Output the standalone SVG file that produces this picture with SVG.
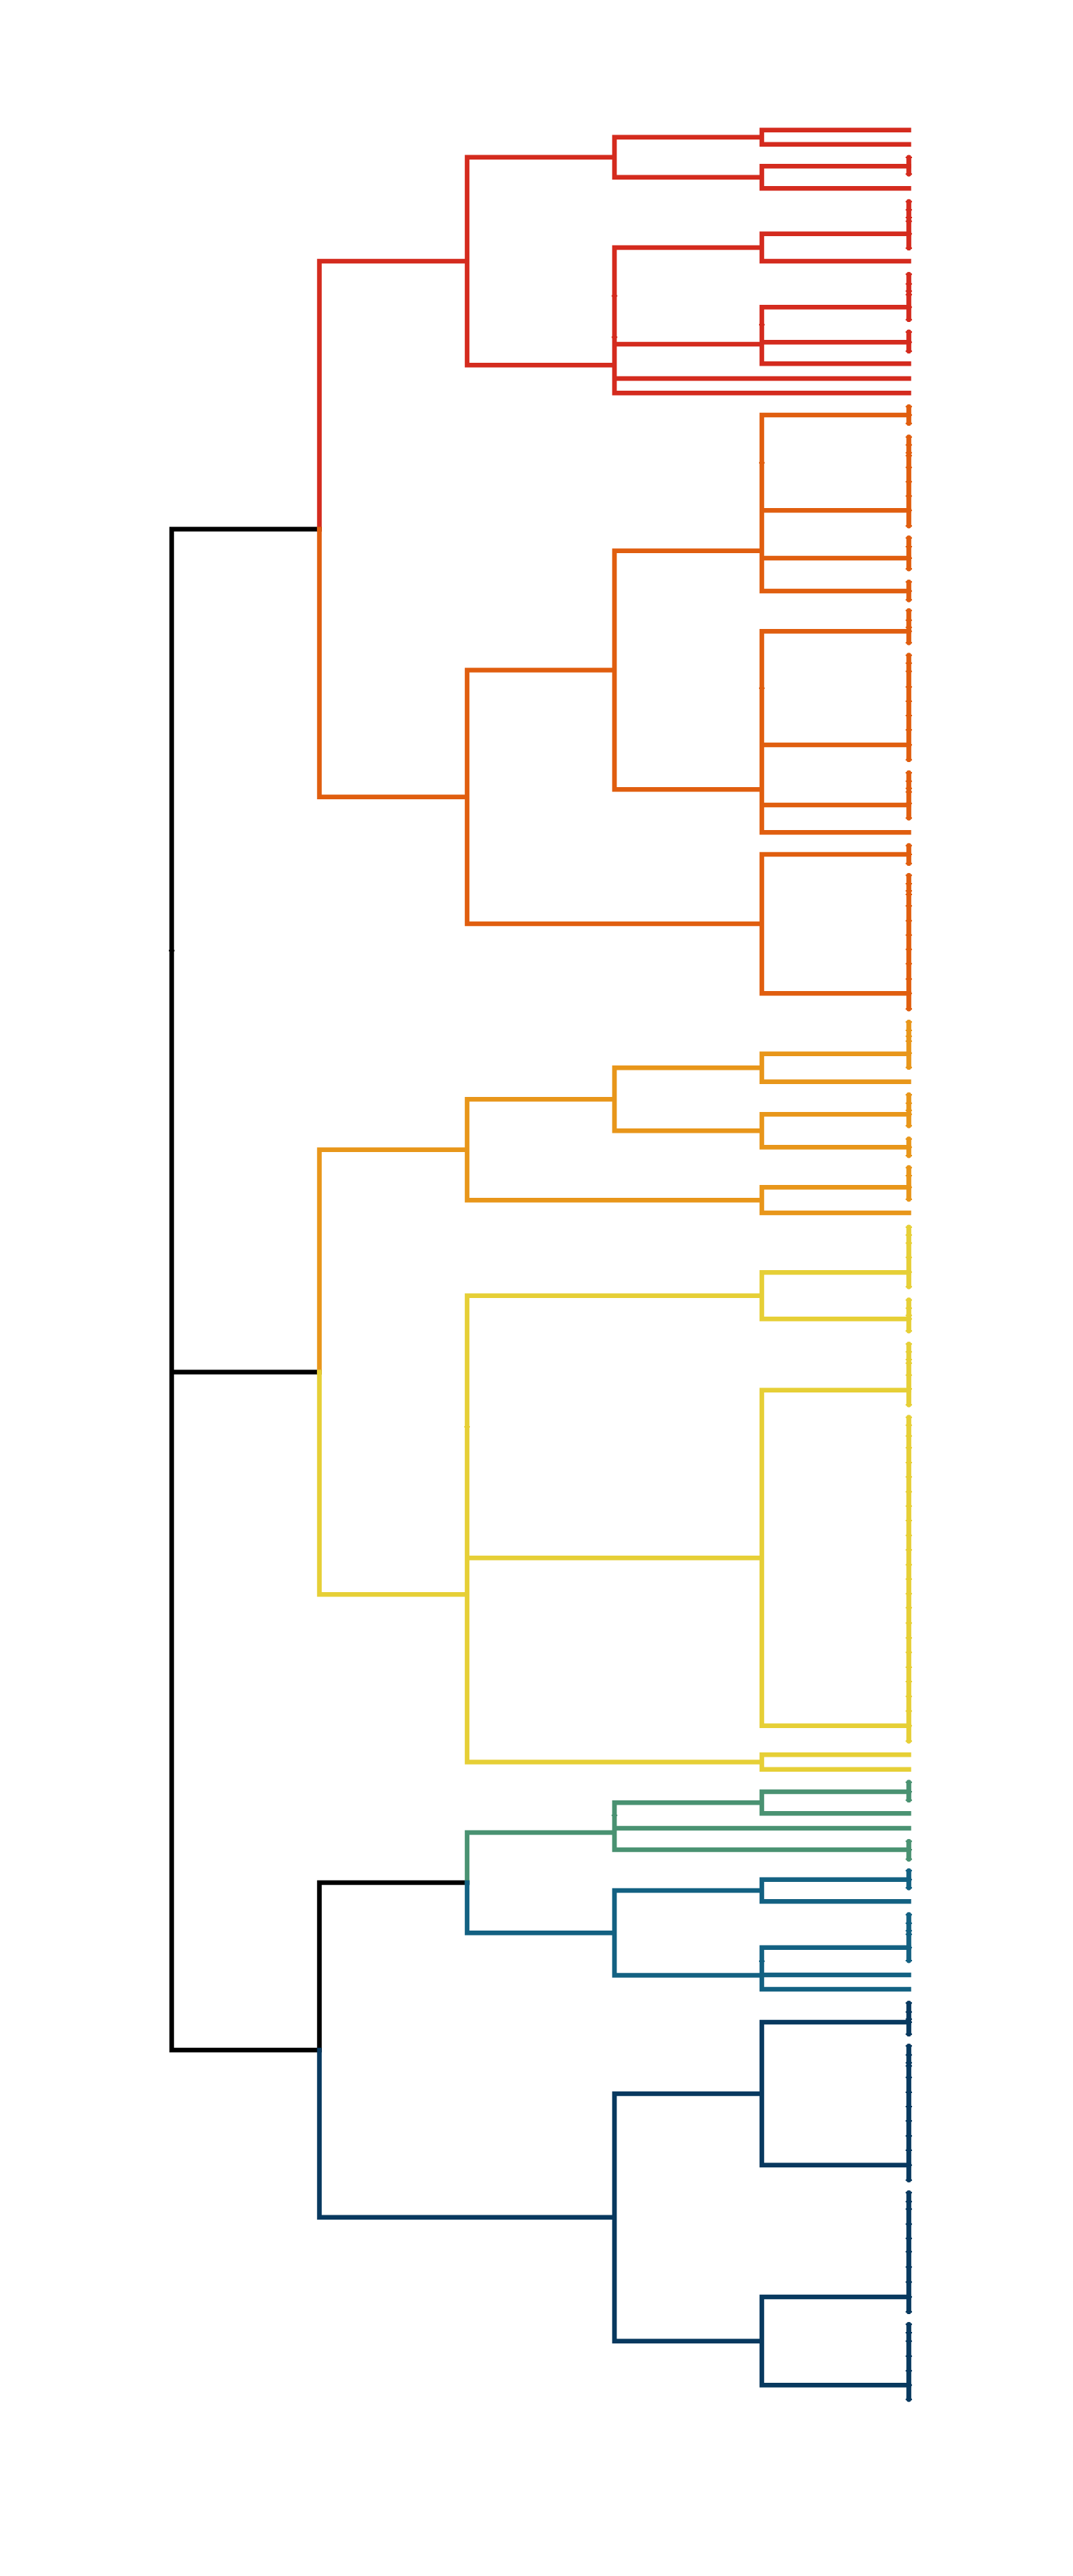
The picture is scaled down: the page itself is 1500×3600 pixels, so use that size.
<svg xmlns="http://www.w3.org/2000/svg" width="1500" height="3600" viewBox="0 0 1500 3600">
<style>
.ln{fill:none;stroke-width:6.5;stroke-linecap:square;stroke-linejoin:miter}
.lf{fill:none;stroke-width:6.8;stroke-linecap:round}
.tk{fill:none;stroke-width:2}
.k{stroke:#000000}
.r{stroke:#D42B1E}
.o{stroke:#E05E0F}
.a{stroke:#E8961A}
.y{stroke:#E6CF36}
.g{stroke:#4A9272}
.t{stroke:#136182}
.n{stroke:#08395F}
</style>
<rect width="1500" height="3600" fill="#ffffff"/>
<g id="connectors">
  <g id="links-black">
    <path class="ln k" d="M446.5,739.4 H240 V2865 H446.5 M240,1917.5 H446.5 M446.5,2631.1 V2865 M446.5,2631.1 H653"/>
    <path class="tk k" d="M236,1328.5 h8"/>
  </g>
  <g id="links-red">
    <path class="ln r" d="M1270.5,181.7 H1065 V201.7 H1270.5 M1270.5,232.3 H1065 V263.3 H1270.5 M1270.5,326.7 H1065 V365 H1270.5 M1270.5,429.3 H1065 V508.3 H1270.5 M1065,478.3 H1270.5 M1065,191.7 H859 V247.7 H1065 M1065,346 H859 V549.3 H1270.5 M859,481 H1065 M859,529 H1270.5 M859,219.7 H653 V510.3 H859 M653,365 H446.5 V739.4"/>
    <path class="tk r" d="M1061,453.8 h8 M855,413.5 h8 M855,471.3 h8"/>
  </g>
  <g id="links-orange">
    <path class="ln o" d="M1270.5,580 H1065 V826 H1270.5 M1065,713.3 H1270.5 M1065,780 H1270.5 M1270.5,882.3 H1065 V1163.3 H1270.5 M1065,1041 H1270.5 M1065,1125 H1270.5 M1270.5,1194 H1065 V1388.3 H1270.5 M1065,769.7 H859 V1103.3 H1065 M859,936.5 H653 V1291 H1065 M446.5,739.4 V1113.8 H653"/>
    <path class="tk o" d="M1061,646.7 h8 M1061,961.7 h8"/>
  </g>
  <g id="links-amber">
    <path class="ln a" d="M1270.5,1472.7 H1065 V1511.7 H1270.5 M1270.5,1557.3 H1065 V1603.3 H1270.5 M1270.5,1659.3 H1065 V1695 H1270.5 M1065,1492.2 H859 V1580.3 H1065 M859,1536.3 H653 V1677.2 H1065 M653,1606.7 H446.5 V1917.5"/>
  </g>
  <g id="links-yellow">
    <path class="ln y" d="M1270.5,1778.3 H1065 V1843.3 H1270.5 M1270.5,1942.7 H1065 V2411.7 H1270.5 M1270.5,2452.3 H1065 V2472.7 H1270.5 M1065,1810.8 H653 V2462.5 H1065 M653,2177.2 H1065 M446.5,1917.5 V2228.3 H653"/>
    <path class="tk y" d="M649,1994 h8"/>
  </g>
  <g id="links-green">
    <path class="ln g" d="M1270.5,2504 H1065 V2534.3 H1270.5 M1065,2519.2 H859 V2585 H1270.5 M859,2555 H1270.5 M859,2561 H653 V2631.1"/>
    <path class="tk g" d="M855,2537 h8"/>
  </g>
  <g id="links-teal">
    <path class="ln t" d="M1270.5,2626.7 H1065 V2657.3 H1270.5 M1270.5,2721.7 H1065 V2780 H1270.5 M1065,2760 H1270.5 M1065,2642 H859 V2760.4 H1065 M653,2631.1 V2701.2 H859"/>
    <path class="tk t" d="M1061,2740.8 h8"/>
  </g>
  <g id="links-navy">
    <path class="ln n" d="M1270.5,2826 H1065 V3025.7 H1270.5 M1270.5,3210 H1065 V3333.3 H1270.5 M1065,2925.9 H859 V3271.7 H1065 M446.5,2865 V3098.8 H859"/>
  </g>
</g>
<g id="leaves">
  <g id="leaves-red">
    <path class="lf r" d="M1270.5,220 V243.3 M1270.5,281.7 V346.7 M1270.5,383.3 V446.7 M1270.5,464 V490.7"/>
    <path class="tk r" d="M1266,220 h9 M1266,243.3 h9 M1266,281.7 h9 M1266,293.3 h9 M1266,304 h9 M1266,309.3 h9 M1266,326.7 h9 M1266,346.7 h9 M1266,383.3 h9 M1266,396.7 h9 M1266,406.7 h9 M1266,411.7 h9 M1266,429.3 h9 M1266,446.7 h9 M1266,464 h9 M1266,478.3 h9 M1266,490.7 h9"/>
  </g>
  <g id="leaves-orange">
    <path class="lf o" d="M1270.5,568.3 V591.7 M1270.5,610.7 V735 M1270.5,751.7 V795 M1270.5,813.3 V838.3 M1270.5,853.3 V898.3 M1270.5,915.7 V1061.7 M1270.5,1080 V1143.3 M1270.5,1181.7 V1206.7 M1270.5,1223.3 V1410"/>
    <path class="tk o" d="M1266,568.3 h9 M1266,580 h9 M1266,591.7 h9 M1266,610.7 h9 M1266,621.7 h9 M1266,632.7 h9 M1266,636.7 h9 M1266,653.3 h9 M1266,673.3 h9 M1266,693.3 h9 M1266,713.3 h9 M1266,735 h9 M1266,751.7 h9 M1266,764 h9 M1266,780 h9 M1266,795 h9 M1266,813.3 h9 M1266,826 h9 M1266,838.3 h9 M1266,853.3 h9 M1266,866.7 h9 M1266,876.7 h9 M1266,882.3 h9 M1266,898.3 h9 M1266,915.7 h9 M1266,926.7 h9 M1266,938.3 h9 M1266,960 h9 M1266,980 h9 M1266,1000 h9 M1266,1020 h9 M1266,1041 h9 M1266,1061.7 h9 M1266,1080 h9 M1266,1091.7 h9 M1266,1101.7 h9 M1266,1106.7 h9 M1266,1122.7 h9 M1266,1143.3 h9 M1266,1181.7 h9 M1266,1194 h9 M1266,1206.7 h9 M1266,1223.3 h9 M1266,1235 h9 M1266,1245 h9 M1266,1250 h9 M1266,1266 h9 M1266,1286.7 h9 M1266,1306.7 h9 M1266,1326.7 h9 M1266,1346.7 h9 M1266,1368.3 h9 M1266,1388.3 h9 M1266,1410 h9"/>
  </g>
  <g id="leaves-amber">
    <path class="lf a" d="M1270.5,1428.3 V1491.7 M1270.5,1530 V1573.3 M1270.5,1591.7 V1615 M1270.5,1631.7 V1676"/>
    <path class="tk a" d="M1266,1428.3 h9 M1266,1440 h9 M1266,1448.3 h9 M1266,1455 h9 M1266,1471.7 h9 M1266,1491.7 h9 M1266,1530 h9 M1266,1541.7 h9 M1266,1551.7 h9 M1266,1557.3 h9 M1266,1573.3 h9 M1266,1591.7 h9 M1266,1603.3 h9 M1266,1615 h9 M1266,1631.7 h9 M1266,1643 h9 M1266,1659.3 h9 M1266,1676 h9"/>
  </g>
  <g id="leaves-yellow">
    <path class="lf y" d="M1270.5,1715 V1798.3 M1270.5,1816.7 V1860 M1270.5,1878.3 V1963.3 M1270.5,1980.7 V2433.3"/>
    <path class="tk y" d="M1266,1715 h9 M1266,1726 h9 M1266,1737.3 h9 M1266,1757.3 h9 M1266,1777.7 h9 M1266,1798.3 h9 M1266,1816.7 h9 M1266,1828.3 h9 M1266,1838.3 h9 M1266,1843.3 h9 M1266,1860 h9 M1266,1878.3 h9 M1266,1889.3 h9 M1266,1900 h9 M1266,1905 h9 M1266,1921.7 h9 M1266,1941 h9 M1266,1963.3 h9 M1266,1980.7 h9 M1266,1991.7 h9 M1266,2006.7 h9 M1266,2023.3 h9 M1266,2044 h9 M1266,2064 h9 M1266,2084.7 h9 M1266,2104.7 h9 M1266,2125 h9 M1266,2145.7 h9 M1266,2166 h9 M1266,2186.7 h9 M1266,2206.7 h9 M1266,2227.3 h9 M1266,2246.7 h9 M1266,2268.3 h9 M1266,2289 h9 M1266,2309.3 h9 M1266,2330 h9 M1266,2350 h9 M1266,2370.7 h9 M1266,2391.3 h9 M1266,2411.7 h9 M1266,2433.3 h9"/>
  </g>
  <g id="leaves-green">
    <path class="lf g" d="M1270.5,2490.7 V2515.7 M1270.5,2573.3 V2598.3"/>
    <path class="tk g" d="M1266,2490.7 h9 M1266,2504 h9 M1266,2515.7 h9 M1266,2573.3 h9 M1266,2585 h9 M1266,2598.3 h9"/>
  </g>
  <g id="leaves-teal">
    <path class="lf t" d="M1270.5,2614.3 V2638.3 M1270.5,2675.7 V2740"/>
    <path class="tk t" d="M1266,2614.3 h9 M1266,2626.7 h9 M1266,2638.3 h9 M1266,2675.7 h9 M1266,2687.7 h9 M1266,2698.3 h9 M1266,2703.3 h9 M1266,2721.7 h9 M1266,2740 h9"/>
  </g>
  <g id="leaves-navy">
    <path class="lf n" d="M1270.5,2799.3 V2842.7 M1270.5,2859.3 V3046.7 M1270.5,3064.3 V3230.7 M1270.5,3248.3 V3353.3"/>
    <path class="tk n" d="M1266,2799.3 h9 M1266,2811.7 h9 M1266,2821.7 h9 M1266,2826 h9 M1266,2842.7 h9 M1266,2859.3 h9 M1266,2871.7 h9 M1266,2882.7 h9 M1266,2887.3 h9 M1266,2903.3 h9 M1266,2924 h9 M1266,2944 h9 M1266,2964 h9 M1266,2985 h9 M1266,3005 h9 M1266,3025.7 h9 M1266,3046.7 h9 M1266,3064.3 h9 M1266,3076.7 h9 M1266,3087.3 h9 M1266,3108.3 h9 M1266,3128.3 h9 M1266,3146.7 h9 M1266,3168.3 h9 M1266,3189.3 h9 M1266,3210 h9 M1266,3230.7 h9 M1266,3248.3 h9 M1266,3260 h9 M1266,3271.7 h9 M1266,3292.7 h9 M1266,3313.3 h9 M1266,3333.3 h9 M1266,3353.3 h9"/>
  </g>
</g>
</svg>
